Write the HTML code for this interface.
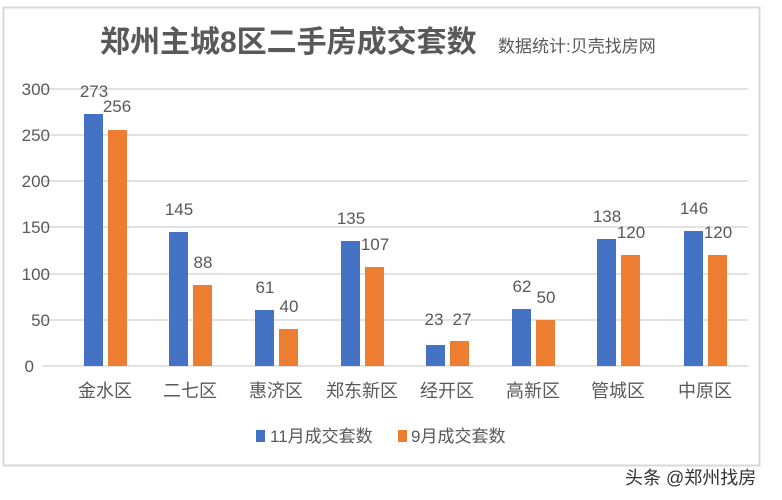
<!DOCTYPE html>
<html><head><meta charset="utf-8"><style>
html,body{margin:0;padding:0;background:#fff;}
svg{display:block;}
text{font-family:"Liberation Sans","Noto Sans CJK SC",sans-serif;}
</style></head><body>
<svg width="782" height="500" viewBox="0 0 782 500" xmlns="http://www.w3.org/2000/svg">
<rect x="0" y="0" width="782" height="500" fill="#fff"/>
<rect x="3.5" y="7.5" width="756" height="458" fill="#fff" stroke="#d9d9d9" stroke-width="2"/>
<text x="100" y="52" font-size="30" font-weight="bold" fill="#595959" font-family="Liberation Sans,Noto Sans CJK SC,sans-serif">郑州主城8区二手房成交套数</text>
<text x="498" y="52" font-size="17" fill="#595959">数据统计:贝壳找房网</text>
<g stroke="#d9d9d9" stroke-width="1.5">
<line x1="42" y1="89" x2="748" y2="89"/>
<line x1="42" y1="135" x2="748" y2="135"/>
<line x1="42" y1="181" x2="748" y2="181"/>
<line x1="42" y1="227" x2="748" y2="227"/>
<line x1="42" y1="274" x2="748" y2="274"/>
<line x1="42" y1="320" x2="748" y2="320"/>
<line x1="42" y1="366" x2="748" y2="366"/>
</g>
<g font-size="17" fill="#595959" text-anchor="end">
<text x="50" y="95">300</text><text x="50" y="141">250</text><text x="50" y="187">200</text>
<text x="50" y="233">150</text><text x="50" y="280">100</text><text x="50" y="326">50</text><text x="34" y="372">0</text>
</g>
<g id="bars"></g>
<g font-size="17" fill="#595959" text-anchor="middle">
<!-- 金水区 -->
<rect x="84" y="114" width="19" height="252" fill="#4472c4"/><rect x="108" y="130" width="19" height="236" fill="#ed7d31"/>
<text x="94" y="97">273</text><text x="117" y="112">256</text>
<!-- 二七区 -->
<rect x="169" y="232" width="19" height="134" fill="#4472c4"/><rect x="193" y="285" width="19" height="81" fill="#ed7d31"/>
<text x="179" y="215">145</text><text x="203" y="268">88</text>
<!-- 惠济区 -->
<rect x="255" y="310" width="19" height="56" fill="#4472c4"/><rect x="279" y="329" width="19" height="37" fill="#ed7d31"/>
<text x="265" y="293">61</text><text x="289" y="312">40</text>
<!-- 郑东新区 -->
<rect x="341" y="241" width="19" height="125" fill="#4472c4"/><rect x="365" y="267" width="19" height="99" fill="#ed7d31"/>
<text x="351" y="224">135</text><text x="375" y="250">107</text>
<!-- 经开区 -->
<rect x="426" y="345" width="19" height="21" fill="#4472c4"/><rect x="450" y="341" width="19" height="25" fill="#ed7d31"/>
<text x="434" y="325">23</text><text x="462" y="325">27</text>
<!-- 高新区 -->
<rect x="512" y="309" width="19" height="57" fill="#4472c4"/><rect x="536" y="320" width="19" height="46" fill="#ed7d31"/>
<text x="522" y="292">62</text><text x="546" y="303">50</text>
<!-- 管城区 -->
<rect x="597" y="239" width="19" height="127" fill="#4472c4"/><rect x="621" y="255" width="19" height="111" fill="#ed7d31"/>
<text x="607" y="222">138</text><text x="631" y="238">120</text>
<!-- 中原区 -->
<rect x="684" y="231" width="19" height="135" fill="#4472c4"/><rect x="708" y="255" width="19" height="111" fill="#ed7d31"/>
<text x="694" y="214">146</text><text x="718" y="238">120</text>
</g>
<g font-size="18" fill="#595959" text-anchor="middle">
<text x="105" y="397">金水区</text><text x="190" y="397">二七区</text><text x="276" y="397">惠济区</text><text x="362" y="397">郑东新区</text>
<text x="447" y="397">经开区</text><text x="533" y="397">高新区</text><text x="618" y="397">管城区</text><text x="705" y="397">中原区</text>
</g>
<rect x="256" y="430" width="9" height="12" fill="#4472c4"/>
<text x="270" y="442" font-size="17" fill="#595959">11月成交套数</text>
<rect x="398" y="430" width="9" height="12" fill="#ed7d31"/>
<text x="411" y="442" font-size="17" fill="#595959">9月成交套数</text>
<text x="625" y="484" font-size="18" fill="#333">头条 @郑州找房</text>
</svg>
</body></html>
